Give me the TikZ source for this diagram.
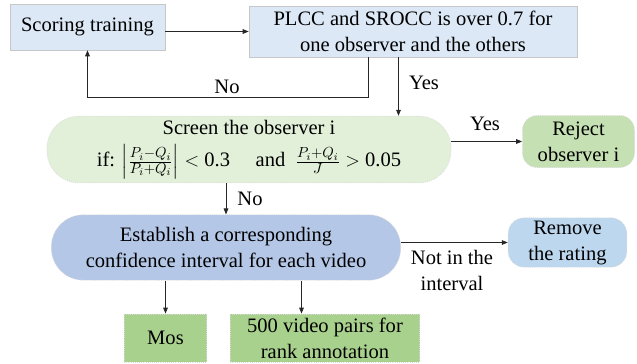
\documentclass[tikz,border=0pt]{standalone}
\usepackage{fontspec}
\setmainfont{Liberation Serif}
\usepackage{amsmath}
\usetikzlibrary{arrows.meta}

\definecolor{scoreblue}{HTML}{DCE8F5}
\definecolor{screengreen}{HTML}{E2F0D9}
\definecolor{rejgreen}{HTML}{C5E0B3}
\definecolor{estblue}{HTML}{B4C7E7}
\definecolor{remblue}{HTML}{BDD7EE}
\definecolor{outgreen}{HTML}{A9D18E}

\begin{document}
\begin{tikzpicture}[x=0.75pt,y=0.75pt,yscale=-1,xscale=1,
    every node/.style={font=\fontsize{15.4}{19.5}\selectfont, inner sep=0.75pt},
    arr/.style={draw=black!85, line width=0.6pt, -{Triangle[length=4.5pt,width=3.5pt]}},
    plainbox/.style={draw=black!22, line width=0.5pt, align=center},
    dotbox/.style={draw=black!15, densely dotted, line width=0.6pt, align=center}]
        \useasboundingbox (0,0) rectangle (637,364);

        % Boxes
        \node [plainbox, fill=scoreblue, minimum width=116pt, minimum height=34.5pt] (score) at (87.5,27) {Scoring training};
        \node [plainbox, fill=scoreblue, minimum width=246pt, minimum height=38pt] (plcc) at (413,31.5) {PLCC and SROCC is over 0.7 for\\one observer and the others};
        \node [dotbox, fill=screengreen, rounded corners=24pt, minimum width=303pt, minimum height=50pt] (screen) at (249,149.5) {Screen the observer i\\[5pt]if: $\left|\frac{P_i-Q_i}{P_i+Q_i}\right| <$ 0.3 \quad and \ $\frac{P_i+Q_i}{J} >$ 0.05};
        \node [dotbox, fill=rejgreen, rounded corners=11pt, minimum width=84pt, minimum height=39pt] (reject) at (578.5,141.5) {Reject\\observer i};
        \node [dotbox, fill=estblue, rounded corners=24pt, minimum width=262pt, minimum height=49pt] (estab) at (226,247.5) {Establish a corresponding\\confidence interval for each video};
        \node [dotbox, fill=remblue, rounded corners=12pt, minimum width=89pt, minimum height=37pt] (remove) at (567.5,242.5) {Remove\\the rating};
        \node [dotbox, fill=outgreen, minimum width=62pt, minimum height=36pt] (mos) at (165.5,338) {Mos};
        \node [dotbox, fill=outgreen, minimum width=142pt, minimum height=36pt] (pairs) at (325,338) {500 video pairs for\\rank annotation};

        % Text Node
        \node (nolabel) at (227,87) {No};
        \node (yeslabel) at (424,83) {Yes};
        \node (yesright) at (485,124) {Yes};
        \node (nodown) at (250,199) {No};
        \node [align=center] (notin) at (452,270) {Not in the\\interval};

        % Connectors
        \coordinate (noturn) at (368,97);
        \coordinate (yesdrop) at (398.5,0);
        \coordinate (pairdrop) at (301.5,0);
        \draw [arr] (score.east |- plcc.west) -- (plcc.west);
        \draw [arr] (plcc.south -| noturn) -- (noturn) -| (score.south);
        \draw [arr] (plcc.south -| yesdrop) -- (screen.north -| yesdrop);
        \draw [arr] (screen.east |- reject.west) -- (reject.west);
        \draw [arr] (screen.south -| estab.north) -- (estab.north);
        \draw [arr] (estab.east |- remove.west) -- (remove.west);
        \draw [arr] (estab.south -| mos.north) -- (mos.north);
        \draw [arr] (estab.south -| pairdrop) -- (pairs.north -| pairdrop);
\end{tikzpicture}
\end{document}
